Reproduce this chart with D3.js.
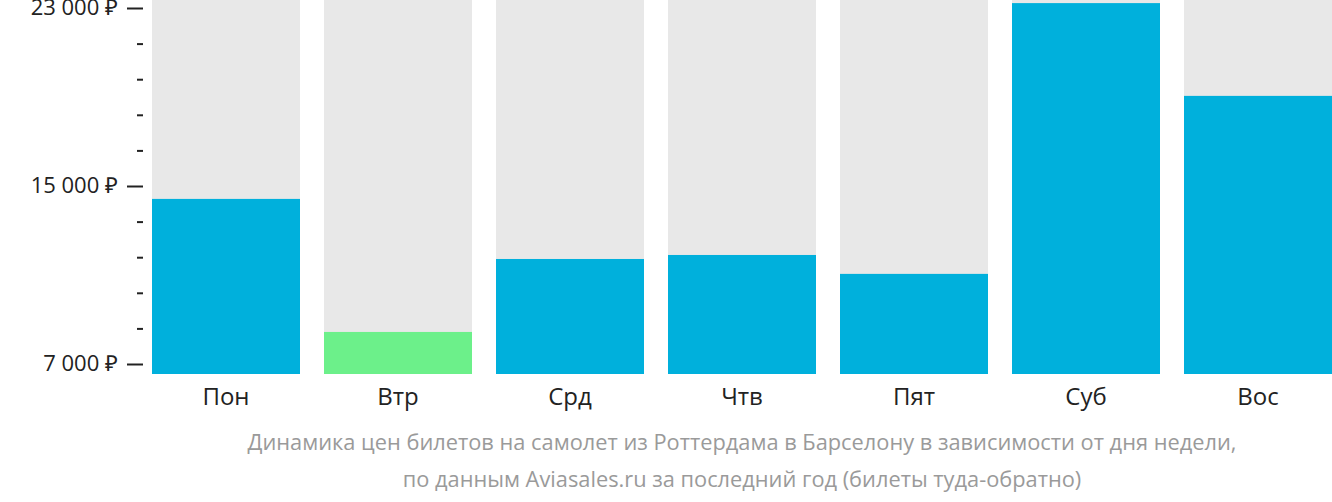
<!DOCTYPE html>
<html><head><meta charset="utf-8">
<script src="https://cdn.jsdelivr.net/npm/d3@7"></script>
<style>body{margin:0;background:#fff}svg{display:block;font-family:"Open Sans",sans-serif}</style>
</head><body><svg id="c" width="1332" height="502"></svg>
<script>
const days = ["Пон","Втр","Срд","Чтв","Пят","Суб","Вос"];
const prices = [14420, 8440, 11720, 11900, 11050, 23220, 19050];
const majorTicks = [7000, 15000, 23000];
const minorTicks = [8600,10200,11800,13400,16600,18200,19800,21400];
const caption = ["Динамика цен билетов на самолет из Роттердама в Барселону в зависимости от дня недели,",
                 "по данным Aviasales.ru за последний год (билеты туда-обратно)"];

const svg = d3.select("#c");
const x = d3.scaleBand().domain(days).range([152,1332]).paddingInner(24/172).paddingOuter(0);
const y = d3.scaleLinear().domain([7000,23000]).range([364,8]);
const bottom = y(7000)+10;
const minV = d3.min(prices);

svg.append("g").selectAll("rect").data(days).join("rect")
  .attr("x",d=>x(d)).attr("width",x.bandwidth()).attr("y",0).attr("height",bottom).attr("fill","#e8e8e8");
svg.append("g").selectAll("rect").data(prices).join("rect")
  .attr("x",(d,i)=>x(days[i])).attr("width",x.bandwidth())
  .attr("y",d=>y(d)).attr("height",d=>bottom-y(d))
  .attr("fill",d=>d===minV?"#6cf08a":"#00b0dc");

const fmt = v => d3.format(",")(v).replace(/,/g,"\u00a0")+" ₽";
const ax = svg.append("g").attr("transform","translate(143,0)")
  .call(d3.axisLeft(y).tickValues(majorTicks).tickFormat(fmt).tickSize(16).tickPadding(9));
ax.select(".domain").remove();
ax.selectAll("text").attr("font-size",22).attr("fill","#222").attr("font-family","Open Sans").attr("dy","0.3em");
ax.selectAll("line").attr("stroke","#222").attr("stroke-width",2);
const mx = svg.append("g").attr("transform","translate(143,0)")
  .call(d3.axisLeft(y).tickValues(minorTicks).tickFormat("").tickSize(6));
mx.select(".domain").remove();
mx.selectAll("line").attr("stroke","#222").attr("stroke-width",2);

svg.append("g").selectAll("text").data(days).join("text")
  .attr("x",d=>x(d)+x.bandwidth()/2).attr("y",405).attr("text-anchor","middle")
  .attr("font-size",24).attr("fill","#222").text(d=>d);

svg.append("g").selectAll("text").data(caption).join("text")
  .attr("x",742).attr("y",(d,i)=>450+i*37).attr("text-anchor","middle")
  .attr("font-size",21.8).attr("fill","#9a9a9a").text(d=>d);
</script></body></html>
